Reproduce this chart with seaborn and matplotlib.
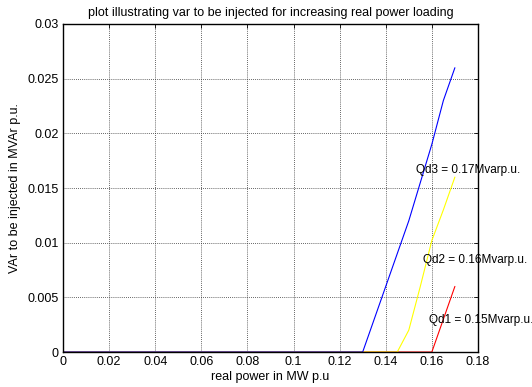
import pandas as pd
import seaborn as sns
import matplotlib
matplotlib.use('Agg')
import matplotlib.pyplot as plt

# values
x_qd1 = [0, 0.13, 0.145, 0.16, 0.165, 0.17]
y_qd1 = [0, 0, 0, 0, 0.003, 0.006]
x_qd2 = [0, 0.13, 0.145, 0.15, 0.155, 0.16, 0.165, 0.17]
y_qd2 = [0, 0, 0, 0.002, 0.006, 0.0102, 0.013, 0.016]
x_qd3 = [0, 0.13, 0.14, 0.15, 0.155, 0.16, 0.165, 0.17]
y_qd3 = [0, 0, 0.006, 0.012, 0.0155, 0.019, 0.023, 0.026]

labels = ['Qd1 = 0.15Mvarp.u.', 'Qd2 = 0.16Mvarp.u.', 'Qd3 = 0.17Mvarp.u.']
label_x = [0.1587, 0.1561, 0.1531]
label_y = [0.0029, 0.0084, 0.01665]
colors = ['red', 'yellow', 'blue']

sns.set_style('white', {'text.color': 'black', 'axes.labelcolor': 'black',
                        'xtick.color': 'black', 'ytick.color': 'black'})
plt.rcParams['font.family'] = ['Liberation Sans', 'DejaVu Sans']
fs = 9

fig = plt.figure(figsize=(5.32, 3.87), dpi=100)
ax = fig.add_axes([0.1184, 0.0904, 0.78, 0.8476])

series = [(x_qd1, y_qd1), (x_qd2, y_qd2), (x_qd3, y_qd3)]
for (xs, ys), c in zip(series, colors):
    df = pd.DataFrame({'x': xs, 'y': ys})
    sns.lineplot(data=df, x='x', y='y', color=c, linewidth=0.8, ax=ax,
                 estimator=None, sort=False)

for t, tx, ty in zip(labels, label_x, label_y):
    ax.text(tx, ty, t, fontsize=8.5, color='black', va='center', ha='left',
            clip_on=False)

ax.set_xlim(0, 0.18)
ax.set_ylim(0, 0.03)
ax.set_xticks([0, 0.02, 0.04, 0.06, 0.08, 0.1, 0.12, 0.14, 0.16, 0.18])
ax.set_xticklabels(['0', '0.02', '0.04', '0.06', '0.08', '0.1', '0.12', '0.14', '0.16', '0.18'])
ax.set_yticks([0, 0.005, 0.01, 0.015, 0.02, 0.025, 0.03])
ax.set_yticklabels(['0', '0.005', '0.01', '0.015', '0.02', '0.025', '0.03'])
ax.grid(True, color='#333333', linestyle=(0, (1, 1.5)), linewidth=0.6)
ax.tick_params(direction='in', top=True, right=True, length=3, width=0.6,
               labelsize=fs, pad=3, colors='black')
for s in ax.spines.values():
    s.set_color('black')
    s.set_linewidth(1.0)

ax.set_title('plot illustrating var to be injected for increasing real power loading',
             fontsize=fs, pad=6, color='black')
ax.set_xlabel('real power in MW p.u', fontsize=fs, labelpad=2, color='black')
ax.set_ylabel('VAr to be injected in MVAr p.u.', fontsize=fs, labelpad=5, color='black')

fig.savefig('out.png', dpi=100)
